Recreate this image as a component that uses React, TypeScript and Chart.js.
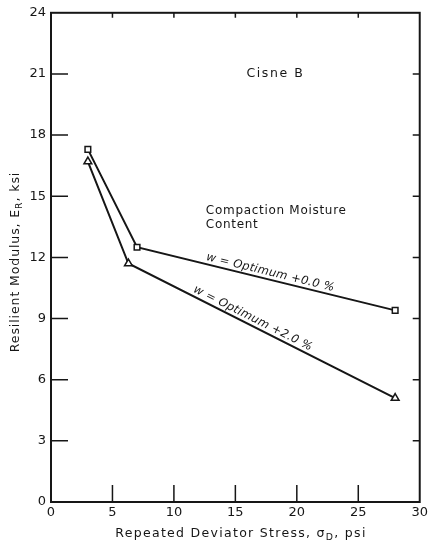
import React, { useEffect, useRef } from "react";
import { Chart, registerables } from "chart.js";

Chart.register(...registerables);

// Repeated deviator stress (psi) and resilient modulus (ksi)
const stressOpt0 = [3, 7, 28];
const modulusOpt0 = [17.3, 12.5, 9.4];
const stressOpt2 = [3, 6.3, 28];
const modulusOpt2 = [16.7, 11.7, 5.1];

const xTicks = [0, 5, 10, 15, 20, 25, 30];
const yTicks = [0, 3, 6, 9, 12, 15, 18, 21, 24];

const seriesLabels = ["w = Optimum +0.0 %", "w = Optimum +2.0 %"];
const panelTitle = "Cisne B";
const noteLines = ["Compaction Moisture", "Content"];

const INK = "#161616";
const FONT = "'DejaVu Sans', 'Liberation Sans', sans-serif";

// Draws a text run with a subscript piece, centred at (0,0) of the current transform
function drawSubText(ctx: CanvasRenderingContext2D, pre: string, sub: string, post: string, size: number) {
  ctx.font = `${size}px ${FONT}`;
  const w1 = ctx.measureText(pre).width;
  const w3 = ctx.measureText(post).width;
  ctx.font = `${size * 0.75}px ${FONT}`;
  const w2 = ctx.measureText(sub).width;
  const total = w1 + w2 + w3;
  let x = -total / 2;
  ctx.textAlign = "left";
  ctx.textBaseline = "middle";
  ctx.font = `${size}px ${FONT}`;
  ctx.fillText(pre, x, 0);
  x += w1;
  ctx.font = `${size * 0.75}px ${FONT}`;
  ctx.fillText(sub, x, size * 0.3);
  x += w2;
  ctx.font = `${size}px ${FONT}`;
  ctx.fillText(post, x, 0);
}

const framePlugin = {
  id: "frame",
  beforeDatasetsDraw(chart: any) {
    const { ctx, chartArea: a, scales } = chart;
    const xs = scales.x;
    const ys = scales.y;
    ctx.save();
    ctx.strokeStyle = INK;
    ctx.lineWidth = 2;
    ctx.strokeRect(a.left, a.top, a.right - a.left, a.bottom - a.top);
    ctx.lineWidth = 1.5;
    ctx.beginPath();
    xTicks.slice(1, -1).forEach((v) => {
      const px = xs.getPixelForValue(v);
      ctx.moveTo(px, a.bottom);
      ctx.lineTo(px, a.bottom - 17);
      ctx.moveTo(px, a.top);
      ctx.lineTo(px, a.top + 5);
    });
    yTicks.slice(1, -1).forEach((v) => {
      const py = ys.getPixelForValue(v);
      ctx.moveTo(a.left, py);
      ctx.lineTo(a.left + 17, py);
      ctx.moveTo(a.right, py);
      ctx.lineTo(a.right - 7, py);
    });
    ctx.stroke();
    ctx.restore();
  },
  afterDraw(chart: any) {
    const { ctx, scales } = chart;
    const xs = scales.x;
    const ys = scales.y;
    ctx.save();
    ctx.fillStyle = INK;

    // axis titles
    (ctx as any).letterSpacing = "1.3px";
    ctx.save();
    ctx.translate(241, 534);
    drawSubText(ctx, "Repeated Deviator Stress, σ", "D", ", psi", 12.5);
    ctx.restore();
    (ctx as any).letterSpacing = "0.9px";
    ctx.save();
    ctx.translate(16, 262);
    ctx.rotate(-Math.PI / 2);
    drawSubText(ctx, "Resilient Modulus, E", "R", ", ksi", 12.5);
    ctx.restore();

    // panel annotations
    ctx.textAlign = "left";
    ctx.textBaseline = "middle";
    (ctx as any).letterSpacing = "1.6px";
    ctx.font = `12.5px ${FONT}`;
    ctx.fillText(panelTitle, xs.getPixelForValue(15.9), ys.getPixelForValue(21.0));
    (ctx as any).letterSpacing = "0.7px";
    ctx.font = `12px ${FONT}`;
    ctx.fillText(noteLines[0], xs.getPixelForValue(12.6), ys.getPixelForValue(14.3));
    ctx.fillText(noteLines[1], xs.getPixelForValue(12.6), ys.getPixelForValue(13.6));

    // labels running along the upper segments of each curve
    const curves = [
      { xs: stressOpt0, ys: modulusOpt0, t: 0.51, label: seriesLabels[0] },
      { xs: stressOpt2, ys: modulusOpt2, t: 0.455, label: seriesLabels[1] },
    ];
    (ctx as any).letterSpacing = "0.3px";
    curves.forEach((c) => {
      const x1 = xs.getPixelForValue(c.xs[1]);
      const y1 = ys.getPixelForValue(c.ys[1]);
      const x2 = xs.getPixelForValue(c.xs[2]);
      const y2 = ys.getPixelForValue(c.ys[2]);
      const ang = Math.atan2(y2 - y1, x2 - x1);
      const cx = x1 + (x2 - x1) * c.t;
      const cy = y1 + (y2 - y1) * c.t;
      ctx.save();
      ctx.translate(cx, cy);
      ctx.rotate(ang);
      ctx.font = `italic 11.5px ${FONT}`;
      ctx.textAlign = "center";
      ctx.textBaseline = "alphabetic";
      ctx.fillText(c.label, 0, -4);
      ctx.restore();
    });
    ctx.restore();
  },
};

export default function App() {
  const ref = useRef<HTMLCanvasElement | null>(null);

  useEffect(() => {
    if (!ref.current) return;
    const toPts = (xs: number[], ys: number[]) => xs.map((x, i) => ({ x, y: ys[i] }));
    const chart = new Chart(ref.current, {
      type: "line",
      data: {
        datasets: [
          {
            label: seriesLabels[0],
            data: toPts(stressOpt0, modulusOpt0),
            borderColor: INK,
            borderWidth: 2,
            pointStyle: "rect",
            pointRadius: 4,
            pointBorderWidth: 1.5,
            pointBackgroundColor: "#ffffff",
            pointBorderColor: INK,
            tension: 0,
          },
          {
            label: seriesLabels[1],
            data: toPts(stressOpt2, modulusOpt2),
            borderColor: INK,
            borderWidth: 2,
            pointStyle: "triangle",
            pointRadius: 4.5,
            pointBorderWidth: 1.5,
            pointBackgroundColor: "#ffffff",
            pointBorderColor: INK,
            tension: 0,
          },
        ],
      },
      options: {
        animation: false,
        responsive: false,
        events: [],
        layout: { padding: { top: 10, right: 11, left: 0, bottom: 0 } },
        plugins: { legend: { display: false }, tooltip: { enabled: false }, title: { display: false } },
        scales: {
          x: {
            type: "linear",
            min: 0,
            max: 30,
            afterBuildTicks: (s: any) => {
              s.ticks = xTicks.map((v) => ({ value: v }));
            },
            ticks: { color: INK, font: { family: FONT, size: 13 }, padding: 3, maxRotation: 0, autoSkip: false },
            grid: { display: false, drawTicks: false },
            border: { display: false },
            afterFit: (s: any) => {
              s.height = 54;
            },
          },
          y: {
            type: "linear",
            min: 0,
            max: 24,
            afterBuildTicks: (s: any) => {
              s.ticks = yTicks.map((v) => ({ value: v }));
            },
            ticks: { color: INK, font: { family: FONT, size: 13 }, padding: 5, autoSkip: false },
            grid: { display: false, drawTicks: false },
            border: { display: false },
            afterFit: (s: any) => {
              s.width = 51;
            },
          },
        },
      },
      plugins: [framePlugin],
    });
    return () => chart.destroy();
  }, []);

  return (
    <div style={{ position: "fixed", left: 0, top: 0, width: 431, height: 556, background: "#fff" }}>
      <canvas ref={ref} width={431} height={556} />
    </div>
  );
}
